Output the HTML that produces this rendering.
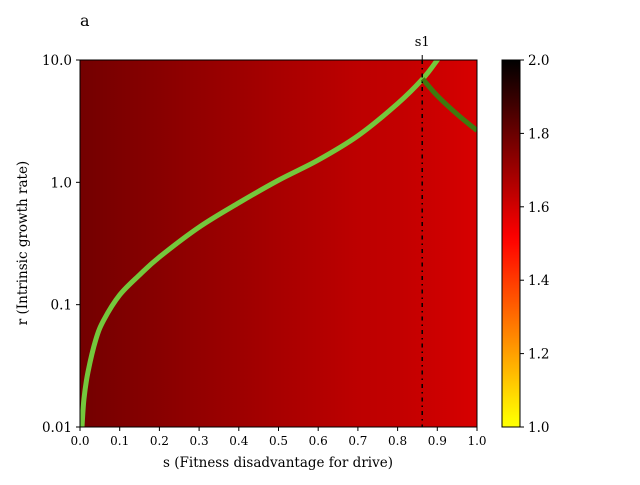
<!DOCTYPE html>
<html><head><meta charset="utf-8"><style>
body{margin:0;background:#fff}
svg text{font-family:"DejaVu Serif","Liberation Serif",serif;fill:#000}
</style></head><body>
<svg width="640" height="480" viewBox="0 0 640 480">
<defs>
<linearGradient id="heat" x1="0" x2="1" y1="0" y2="0"></linearGradient>
<linearGradient id="cbar" x1="0" x2="0" y1="1" y2="0"></linearGradient>
<clipPath id="clip"><rect x="80" y="60" width="397" height="367"/></clipPath>
</defs>
<text x="80" y="26" font-size="16">a</text>
<rect x="80" y="60" width="397" height="367" fill="url(#heat)"/>
<g id="curves" clip-path="url(#clip)"></g>
<rect x="80" y="60" width="397" height="367" fill="none" stroke="#000" stroke-width="1"/>
<g id="axes"></g>
<text x="278" y="467" font-size="13.5" text-anchor="middle">s (Fitness disadvantage for drive)</text>
<text transform="translate(27,243) rotate(-90)" font-size="13.5" text-anchor="middle">r (Intrinsic growth rate)</text>
<rect x="502" y="60" width="18" height="367" fill="url(#cbar)" stroke="#000" stroke-width="1"/>
<g id="cbaxis"></g>
</svg>
<script>
const heatS=[0,0.1,0.2,0.3,0.4,0.5,0.6,0.7,0.8,0.9,1.0];
const heatV=[1.78,1.76,1.74,1.72,1.70,1.68,1.66,1.64,1.63,1.61,1.59];
const curveS=[0.005,0.01,0.02,0.04,0.06,0.1,0.15,0.2,0.3,0.4,0.5,0.6,0.7,0.8,0.863,0.9,0.92];
const curveR=[0.01,0.017,0.028,0.052,0.075,0.12,0.175,0.245,0.43,0.68,1.04,1.52,2.4,4.4,7.0,10.0,12.5];
const lowerS=[0.863,0.9,0.95,1.0];
const lowerR=[7.0,5.1,3.6,2.65];
const s1=0.862;
const xTicks=[0,0.1,0.2,0.3,0.4,0.5,0.6,0.7,0.8,0.9,1.0];
const xLabels=["0.0","0.1","0.2","0.3","0.4","0.5","0.6","0.7","0.8","0.9","1.0"];
const yTicks=[0.01,0.1,1,10];
const yLabels=["0.01","0.1","1.0","10.0"];
const cTicks=[1.0,1.2,1.4,1.6,1.8,2.0];
const cLabels=["1.0","1.2","1.4","1.6","1.8","2.0"];
const NS="http://www.w3.org/2000/svg";
const X=s=>80+s*397;
const Y=r=>427-(Math.log10(r)+2)/3*367;
const C=v=>427-(v-1)*367;
function cmap(v){const x=0.75*(2-v);const c=t=>Math.max(0,Math.min(1,t));
return `rgb(${Math.round(255*c(x/0.365))},${Math.round(255*c((x-0.365)/0.375))},${Math.round(255*c((x-0.746)/0.254))})`;}
function el(t,a,p){const e=document.createElementNS(NS,t);for(const k in a)e.setAttribute(k,a[k]);p.appendChild(e);return e;}
function smooth(pts){let d='M'+pts[0][0]+','+pts[0][1];
for(let i=0;i<pts.length-1;i++){const p0=pts[Math.max(0,i-1)],p1=pts[i],p2=pts[i+1],p3=pts[Math.min(pts.length-1,i+2)];
const c1=[p1[0]+(p2[0]-p0[0])/6,p1[1]+(p2[1]-p0[1])/6],c2=[p2[0]-(p3[0]-p1[0])/6,p2[1]-(p3[1]-p1[1])/6];
d+=` C${c1[0]},${c1[1]} ${c2[0]},${c2[1]} ${p2[0]},${p2[1]}`;}return d;}
const hg=document.getElementById('heat');
heatS.forEach((s,i)=>el('stop',{offset:s,'stop-color':cmap(heatV[i])},hg));
const cg=document.getElementById('cbar');
for(let i=0;i<=40;i++){el('stop',{offset:i/40,'stop-color':cmap(1+i/40)},cg);}
const cv=document.getElementById('curves');
const p1=el('path',{d:smooth(curveS.map((s,i)=>[X(s),Y(curveR[i])])),fill:'none',stroke:'#74c83c','stroke-width':5},cv);


const p2=el('path',{d:smooth(lowerS.map((s,i)=>[X(s),Y(lowerR[i])])),fill:'none',stroke:'#3f7a0e','stroke-width':5},cv);


const vl=el('line',{x1:X(s1),x2:X(s1),y1:60,y2:427,stroke:'#000','stroke-width':1.5,'stroke-dasharray':'4,4,1.5,4'},cv);


const ax=document.getElementById('axes');
const s1t=el('line',{x1:X(s1),x2:X(s1),y1:60,y2:55,stroke:'#000'},ax);


const s1l=el('text',{x:X(s1),y:46,'font-size':13,'text-anchor':'middle'},ax);s1l.textContent='s1';


xTicks.forEach((s,i)=>{el('line',{x1:X(s),x2:X(s),y1:427,y2:431,stroke:'#000'},ax);
const t=el('text',{x:X(s),y:445,'font-size':12,'text-anchor':'middle'},ax);t.textContent=xLabels[i];

});
yTicks.forEach((r,i)=>{el('line',{x1:80,x2:76,y1:Y(r),y2:Y(r),stroke:'#000'},ax);
const t=el('text',{x:72,y:Y(r)+5,'font-size':13.5,'text-anchor':'end'},ax);t.textContent=yLabels[i];

});
const cb=document.getElementById('cbaxis');
cTicks.forEach((v,i)=>{el('line',{x1:520,x2:524,y1:C(v),y2:C(v),stroke:'#000'},cb);
const t=el('text',{x:528,y:C(v)+5,'font-size':13.5},cb);t.textContent=cLabels[i];

});
</script>
</body></html>
